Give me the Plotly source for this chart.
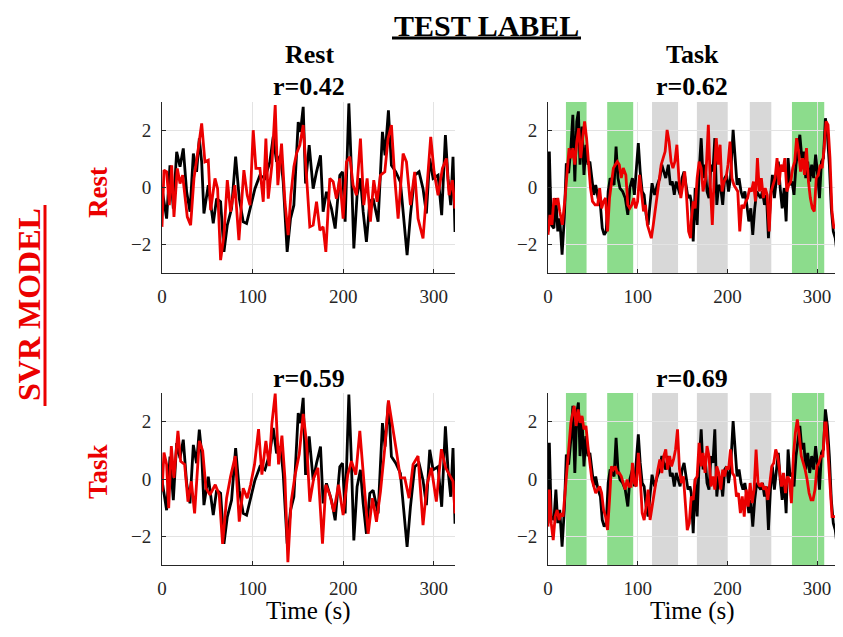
import plotly.graph_objects as go

# ---------------- data ----------------
# true (test label) time course, rest run
rest_true = [(0,-0.04),(5.1,-1.09),(8.8,0.78),(12.5,-0.74),(16.2,1.25),(19.9,0.73),(23.5,1.37),(27.2,-0.15),
 (30.9,-0.85),(34.6,1.19),(38.2,0.55),(41.2,1.72),(43.8,0.9),(46.3,-0.91),(51.1,0.08),(56.6,-1.26),(60.3,-0.39),
 (64.7,-0.5),(68.4,-2.26),(72.1,-1.32),(76.8,-0.74),(81.3,1.08),(85.3,-0.39),(89.7,-1.2),(93.4,-1.26),(97.8,-0.62),
 (102.6,-0.04),(108.1,0.43),(113.6,0.32),(119.1,0.9),(122.8,1.78),(126.5,0.9),(130.9,1.13),(133.8,0.2),(138.2,-2.26),
 (141.9,-1.09),(145.6,-0.62),(150.4,2.3),(152.9,1.95),(155.9,2.83),(158.5,0.14),(162.5,1.49),(166.9,-0.04),(170.6,0.55),
 (175,1.13),(177.9,-0.85),(181.6,-0.15),(187.1,-0.74),(191.2,-1.44),(196.3,0.43),(199.3,0.55),(202.2,-1.2),(206.3,2.95),
 (208.8,0.9),(211.8,-2.14),(215.4,-0.27),(219.1,0.32),(222.1,-0.85),(225.7,-1.91),(229.4,-0.5),(233.1,-0.39),(238.6,-1.2),
 (243.4,1.95),(246.3,1.13),(250,2.71),(253.3,0.78),(258.1,0.55),(263.2,0.2),(266.9,-1.15),(270.6,-2.37),(274.3,-0.97),
 (279,0.43),(283.8,0.55),(288.2,-0.04),(291.9,-0.91),(295.6,1.02),(299.3,0.32),(304.8,0.43),(308.8,-0.97),(312.9,1.84),
 (315.8,0.32),(318.8,-0.62),(321.3,1.08),(323.5,-1.56)]

# true (test label) time course, task run
task_true = [(0,-1.54),(1.5,1.26),(3.6,-1.31),(6.6,-1.43),(8.8,-0.37),(10.9,-1.54),(13.1,-1.08),(15.7,-2.36),(18.2,-1.08),
 (20.4,0.85),(23,0.5),(25.5,1.38),(27.7,2.55),(29.9,0.21),(32.1,2.32),(33.9,2.67),(35.7,0.8),(37.9,2.14),(40.1,0.44),
 (42.3,1.5),(44.5,0.8),(46.7,0.91),(48.9,0.33),(51.1,-0.26),(53.2,0.09),(55.8,-0.37),(58.4,-0.61),(60.5,-1.43),
 (62.7,-1.66),(64.9,-1.54),(67.1,-0.14),(69.3,0.33),(71.5,0.21),(73.7,0.09),(75.9,1.44),(78,0.33),(80.2,-0.02),
 (83.2,-0.14),(86.1,-0.37),(89,-0.96),(91.2,-0.02),(94.1,0.33),(96.3,-0.26),(98.5,0.8),(100.7,1.56),(102.8,0.56),
 (105,-0.14),(107.2,-0.26),(109.4,-0.96),(111.6,-1.31),(113.8,-0.61),(116,0.15),(118.9,-0.26),(121.8,0.09),
 (124.7,0.33),(126.9,0.8),(129.1,0.56),(131.3,0.33),(134.2,0.8),(136.4,0.09),(138.6,0.21),(140.8,-0.26),(143,0.21),
 (145.2,-0.02),(147.3,-0.26),(149.5,0.33),(151.7,0.56),(153.9,0.09),(156.1,-0.37),(158.3,-0.26),(159.7,-0.49),
 (161.9,-1.89),(164.1,-0.02),(166.3,-1.31),(168.5,0.56),(170.8,1.73),(172.9,0.33),(175.1,0.8),(177.3,-0.14),
 (179.5,-0.37),(181.7,0.8),(183.9,0.56),(186,1.73),(188.2,-0.61),(190.4,0.09),(192.6,-0.02),(194.8,-0.61),(197,0.33),
 (199.1,0.44),(201.3,-0.14),(203.5,0.33),(206.4,2.02),(208.6,1.03),(210.8,0.09),(213,0.33),(215.2,-0.14),(217.4,-0.37),
 (219.5,-0.14),(221.7,-0.61),(223.9,-1.19),(226.1,-0.73),(228.3,-1.66),(230.5,-0.73),(232.7,-0.14),(234.9,-0.26),
 (237.1,-0.37),(239.2,-0.14),(241.4,-0.61),(243.6,-0.26),(245.8,-1.78),(248,-0.37),(250.2,0.44),(252.4,-0.37),
 (254.6,0.21),(256.8,0.91),(258.9,-0.02),(261.1,-0.73),(263.3,-0.02),(265.5,-1.19),(267.7,1.03),(269.9,0.09),
 (272.1,0.21),(274.3,-0.26),(276.5,0.8),(278.6,1.26),(280.8,1.85),(283,1.03),(285.2,1.26),(287.4,0.33),(289.6,0.91),
 (291.8,0.21),(294,0.8),(296.2,0.33),(298.4,1.15),(300.6,0.44),(302.7,-0.37),(304.9,0.91),(307.1,1.03),(309.3,2.43),
 (311.5,1.85),(313.7,0.8),(315.9,-0.73),(318.1,-1.54),(320.3,-1.78),(322.5,-2.36)]

# SVR predictions: model trained on rest / task, tested on rest / task
pred_restmodel_rest = [(0,-1.38),(2.2,0.61),(5.1,0.55),(8.1,-0.62),(10.7,0.78),(13.2,-1.03),(16.9,0.67),(19.9,0.14),
 (22.8,0.43),(27.9,-1.03),(31.6,-1.32),(35.3,0.32),(40.1,1.37),(43.8,2.25),(47.4,0.9),(51.1,0.96),(53.7,-0.8),
 (58.5,0.32),(61.4,-0.04),(64.7,-2.55),(68.4,-1.67),(72.1,0.26),(75.7,-0.85),(80.5,0.08),(84.9,-1.85),(90.4,0.61),
 (94.1,-0.27),(97.1,-0.62),(100.7,2.01),(103.7,0.67),(108.1,0.67),(111.8,-0.5),(114.7,1.72),(117.3,-0.39),(121.3,0.78),
 (125,2.89),(127.9,0.08),(132,1.54),(135.7,-0.5),(139.3,-1.67),(142.3,-0.27),(145.6,0.73),(148.5,1.19),(152.2,1.49),
 (155.9,2.19),(159.6,0.55),(163.2,-1.38),(166.9,-1.32),(170.6,-0.5),(174.3,-1.5),(177.9,-1.38),(180.9,-2.26),
 (185.3,0.32),(189,0.2),(192.6,-0.39),(196.3,0.32),(200,-1.09),(203.7,0.9),(207.4,1.08),(211,0.08),(214.7,-0.27),
 (219.1,1.72),(222.8,-0.62),(226.5,0.32),(230.1,-1.2),(233.8,0.26),(237.5,-0.5),(241.2,0.43),(246,0.55),(249.6,1.72),
 (253.3,2.19),(257,0.32),(260.7,-1.09),(266.2,1.19),(269.9,0.9),(274.3,-0.62),(279,0.55),(282.7,-1.09),(288.2,-1.79),
 (291.9,-0.27),(296.7,1.78),(300.4,0.55),(304.8,-0.27),(309.6,0.67),(314,1.02),(317,-0.27),(320.6,0.26),(323.5,-0.74)]

pred_restmodel_task = [(0,-1.66),(2.2,-0.96),(4.4,-1.31),(6.6,-0.37),(8.8,-0.61),(10.9,-0.37),(13.1,-0.84),(16,-1.31),
 (19,-0.37),(21.2,0.56),(23.5,1.38),(25.5,1.03),(27.7,1.38),(29.9,0.8),(32.1,1.61),(34.3,2.08),(36.5,1.03),(38.7,1.73),
 (40.8,2.32),(43,1.73),(45.2,0.91),(47.4,-0.02),(49.6,-0.49),(52.5,-0.61),(55.4,-0.61),(57.6,-0.02),(59.8,-0.73),
 (62,-0.49),(64.2,-0.37),(66.4,-1.54),(68.6,-0.37),(70.7,0.21),(72.9,0.68),(75.1,0.8),(77.3,0.91),(79.5,0.8),
 (81.7,0.33),(83.9,0.68),(86.8,0.44),(89,-0.61),(91.2,-0.73),(93.4,-0.61),(95.6,-0.37),(97.7,-0.73),(99.9,-0.49),
 (102.1,0.44),(104.3,-0.26),(106.5,-0.84),(108.7,-0.61),(110.8,-1.31),(113,-1.54),(115.2,-1.78),(117.4,-1.31),
 (119.6,-0.73),(121.8,-0.14),(124,0.33),(126.2,0.8),(128.4,1.03),(130.6,1.26),(132.8,2.02),(135,1.61),(137.2,0.91),
 (139.3,0.68),(141.5,0.91),(143.7,1.5),(145.9,0.33),(148.1,-0.37),(150.3,0.09),(152.4,0.56),(154.6,-0.37),
 (156.8,-1.54),(159,-1.78),(159.7,-1.19),(161.9,-0.49),(164.1,-0.73),(166.3,0.33),(168.5,0.91),(170.8,0.68),
 (172.9,-0.14),(175.9,0.33),(178.8,2.2),(181,0.09),(183.2,-1.31),(185.4,0.44),(187.6,1.73),(189.8,0.8),(191.9,1.5),
 (194.1,-0.14),(196.3,0.21),(198.5,0.33),(200.7,0.8),(202.9,1.61),(205.1,0.33),(207.3,0.09),(209.4,-0.02),
 (211.6,-0.14),(213.8,-1.54),(216,-0.61),(218.2,-0.73),(220.4,-0.49),(222.6,-0.37),(224.8,-0.02),(226.9,-0.14),
 (229.1,0.21),(231.3,-0.49),(233.5,1.03),(235.7,-0.14),(237.9,0.33),(240.1,-0.37),(242.2,-0.02),(244.4,-0.26),
 (246.6,-1.54),(248.8,-0.14),(251,0.09),(253.2,0.33),(255.4,1.03),(257.6,0.09),(259.7,0.8),(261.9,0.56),(264.1,1.03),
 (266.3,-0.14),(268.5,0.09),(270.7,0.21),(272.9,0.68),(275.1,0.91),(277.2,1.73),(279.4,1.26),(281.6,0.56),
 (283.8,1.03),(286,0.44),(288.2,1.38),(290.4,0.21),(292.5,-0.37),(294.7,-0.73),(296.9,-0.84),(299.1,0.33),
 (301.3,0.44),(303.5,0.8),(305.7,0.68),(307.9,1.38),(310.1,2.32),(312.2,2.2),(314.4,1.03),(316.6,-0.84),
 (318.8,-1.43),(321.7,-1.31)]

pred_taskmodel_rest = [(0,-0.44),(2.2,0.92),(5.1,0.51),(7.4,-1.02),(10.3,1.15),(13.2,0.04),(17.6,1.68),(20.6,0.62),
 (25,0.51),(28.7,-0.79),(32.4,-0.08),(36,-1.2),(41.2,1.33),(44.9,0.98),(48.5,-0.32),(52.9,-0.55),(58.8,-0.2),
 (63.2,-0.55),(66.9,-2.26),(71.3,-0.67),(75.7,0.09),(80.9,0.8),(85.3,-1.49),(89.7,-0.32),(94.1,-0.67),(97.8,-0.2),
 (102.2,0.51),(106.6,1.74),(110.3,0.15),(114.7,1.33),(118.4,0.45),(121.3,1.92),(125,2.98),(128.7,0.51),(132.4,1.51),
 (135.7,0.04),(139,-2.9),(142.6,-0.79),(147,0.15),(151.5,0.86),(155.9,2.27),(159.6,1.27),(163.2,-0.79),(167.6,0.04),
 (172.1,0.39),(177.2,-2.26),(180.9,-0.2),(185.3,-0.55),(189.7,-1.14),(194.9,-0.2),(200,-1.26),(205.1,0.15),
 (209.2,0.62),(214,0.15),(218.4,1.68),(222.8,-0.2),(227.6,-1.91),(232.4,-0.67),(236.8,-1.49),(241.2,-0.44),
 (246,1.09),(250,2.74),(254.4,1.92),(258.8,0.98),(263.2,0.04),(268,0.04),(272.8,-0.67),(277.2,0.51),(282.7,0.8),
 (288.2,-1.61),(292.6,-0.2),(297.4,0.39),(302.9,-0.79),(308.5,1.04),(313.2,0.39),(317.6,0.15),(321.3,-0.08),
 (323.5,-1.2)]

pred_taskmodel_task = [(0,-1.66),(1.5,-0.37),(3.6,-1.54),(5.8,-2.13),(8,-1.31),(10.2,-1.08),(12.4,-1.43),(14.6,-1.19),
 (16.8,-1.31),(19,-0.49),(21.2,0.09),(23.3,1.03),(25.5,1.96),(27.7,2.32),(29.2,2.55),(31.4,1.85),(33.6,2.43),
 (35.7,1.96),(37.9,2.2),(40.1,1.73),(42.3,1.85),(44.5,1.15),(46.7,0.44),(48.9,-0.02),(51.1,-0.26),(53.2,-0.49),
 (55.4,-0.37),(57.6,-0.26),(59.8,-0.49),(62,-1.08),(64.2,-1.31),(66.4,-1.78),(68.6,-0.73),(70.7,0.44),(72.9,0.33),
 (75.1,0.44),(77.3,0.21),(79.5,0.21),(81.7,0.09),(83.9,-0.14),(86.1,-0.37),(88.2,-0.02),(90.4,-0.26),(92.6,-0.26),
 (94.1,0.56),(96.3,-0.14),(98.5,-0.26),(100.7,0.91),(102.8,0.09),(105,-1.19),(107.2,-1.43),(109.4,-0.96),
 (111.6,-0.37),(113.8,-1.43),(116,-0.96),(118.1,-0.61),(120.3,-0.02),(122.5,0.33),(124.7,0.68),(126.9,0.21),
 (129.1,0.8),(131.3,1.03),(133.4,0.33),(135.6,0.8),(137.8,0.44),(140,0.68),(142.2,1.03),(144.4,1.73),(146.6,0.33),
 (148.8,-0.14),(151,0.09),(153.1,-0.84),(155.3,-1.78),(157.5,-1.54),(159.7,-0.61),(161.9,-0.73),(164.1,-0.02),
 (166.3,0.09),(168.5,1.26),(170.8,0.44),(172.9,0.91),(175.1,0.21),(177.3,1.15),(179.5,0.8),(181.7,-0.26),
 (183.9,0.09),(186,-0.37),(188.2,0.44),(190.4,0.21),(192.6,-0.37),(194.8,0.33),(197,0.09),(199.1,0.44),(201.3,0.33),
 (203.5,1.03),(205.7,0.21),(207.9,0.09),(210.1,-0.61),(212.3,-0.49),(214.5,-1.19),(216.6,-0.61),(218.8,-1.31),
 (221,-0.37),(223.2,-0.96),(225.4,-0.14),(227.6,-0.84),(229.8,-0.37),(232,1.03),(234.2,-0.14),(236.3,-0.26),
 (238.5,-0.14),(240.7,-0.37),(242.9,-0.26),(245.1,-0.73),(247.3,-0.14),(249.5,0.44),(251.7,0.56),(253.9,1.03),
 (256.1,0.8),(258.2,0.33),(260.4,-0.26),(262.6,0.21),(264.8,-0.49),(267,0.09),(269.2,-0.02),(271.4,-0.84),
 (273.6,0.8),(275.8,1.61),(278,2.08),(280.2,1.5),(282.4,0.8),(284.6,0.56),(286.7,0.33),(288.9,-0.02),(291.1,-0.49),
 (293.3,-0.73),(295.5,-0.73),(297.7,-0.37),(299.9,0.44),(302.1,0.56),(304.3,0.8),(306.5,0.8),(308.7,1.96),
 (310.1,1.96),(312.3,0.8),(314.5,-0.37),(316.7,-1.31),(318.9,-1.31),(321.8,-1.31)]

# task blocks (seconds): start, end, condition
block_start = [20, 66, 116, 166, 225, 272]
block_end = [43, 95, 145, 200, 249, 308]
block_kind = ["A", "A", "B", "B", "B", "A"]

panel_r = {(1, 1): "r=0.42", (1, 2): "r=0.62", (2, 1): "r=0.59", (2, 2): "r=0.69"}
x_ticks = [0, 100, 200, 300]
y_ticks = [-2, 0, 2]

# ---------------- figure ----------------
WIN_W, WIN_H = 843, 637
OFF = 8                      # default page margin around the plot div
W, H = WIN_W - 2 * OFF, WIN_H - 2 * OFF
FONT = "Times New Roman, Liberation Serif, serif"
BLACK = "#000000"
RED = "rgb(235,0,0)"
GREEN = "rgb(140,220,140)"
GRAY = "rgb(216,216,216)"

def px(x):
    return (x - OFF) / W

def py(y):
    return 1 - (y - OFF) / H

fig = go.Figure()

doms = {
    1: dict(x=(px(162), px(455)), y=(py(273), py(102)), rng=323.5),
    2: dict(x=(px(548), 1.0), y=(py(273), py(102)), rng=320.0),
    3: dict(x=(px(162), px(455)), y=(py(565), py(393)), rng=323.5),
    4: dict(x=(px(548), 1.0), y=(py(565), py(393)), rng=320.0),
}
panels = [
    (1, rest_true, pred_restmodel_rest, False),
    (2, task_true, pred_restmodel_task, True),
    (3, rest_true, pred_taskmodel_rest, False),
    (4, task_true, pred_taskmodel_task, True),
]

layout = dict(
    width=W, height=H, margin=dict(l=0, r=0, t=0, b=0),
    paper_bgcolor="white", plot_bgcolor="rgba(0,0,0,0)",
    showlegend=False, font=dict(family=FONT, color="#262626"),
)
shapes = []
for idx, truth, pred, blocks in panels:
    d = doms[idx]
    xa = "x" if idx == 1 else f"x{idx}"
    ya = "y" if idx == 1 else f"y{idx}"
    tt, tv = zip(*truth)
    pt, pv = zip(*pred)
    fig.add_trace(go.Scatter(x=tt, y=tv, mode="lines", line=dict(color=BLACK, width=2.8),
                             xaxis=xa, yaxis=ya, hoverinfo="skip"))
    fig.add_trace(go.Scatter(x=pt, y=pv, mode="lines", line=dict(color=RED, width=2.8),
                             xaxis=xa, yaxis=ya, hoverinfo="skip"))
    axkey = "" if idx == 1 else str(idx)
    common = dict(
        showline=True, linecolor="#262626", linewidth=1, mirror=False,
        ticks="inside", ticklen=4, tickcolor="#262626",
        showgrid=True, gridcolor="#e3e3e3", gridwidth=1, zeroline=False,
        tickfont=dict(family=FONT, size=19, color="#262626"), ticklabelstandoff=6,
        automargin=False,
    )
    layout["xaxis" + axkey] = dict(domain=list(d["x"]), anchor=ya, range=[0, d["rng"]],
                                   tickvals=x_ticks, ticklabeloverflow="allow", **common)
    layout["yaxis" + axkey] = dict(domain=list(d["y"]), anchor=xa, range=[-3, 3],
                                   tickvals=y_ticks, **common)
    if blocks:
        for s, e, k in zip(block_start, block_end, block_kind):
            shapes.append(dict(type="rect", xref=xa, yref=f"{ya} domain", x0=s, x1=e, y0=0, y1=1,
                               fillcolor=GREEN if k == "A" else GRAY, line=dict(width=0), layer="below"))

annotations = []

def ann(text, x, y, size, color="#000000", angle=0):
    annotations.append(dict(text=text, x=px(x), y=py(y), xref="paper", yref="paper",
                            showarrow=False, xanchor="center", yanchor="middle", textangle=angle,
                            font=dict(family=FONT, size=size, color=color)))

ann("<b>TEST LABEL</b>", 486, 25, 30)
shapes.append(dict(type="line", xref="paper", yref="paper", x0=px(392), x1=px(581), y0=py(38), y1=py(38),
                   line=dict(color="#000000", width=3)))
ann("<b>Rest</b>", 309, 54, 26)
ann("<b>Task</b>", 692, 54, 26)
ann("<b>" + panel_r[(1, 1)] + "</b>", 309, 86, 26)
ann("<b>" + panel_r[(1, 2)] + "</b>", 692, 86, 26)
ann("<b>" + panel_r[(2, 1)] + "</b>", 309, 378, 26)
ann("<b>" + panel_r[(2, 2)] + "</b>", 692, 378, 26)
ann("Time (s)", 308, 611, 25)
ann("Time (s)", 692, 611, 25)
ann("<b>Rest</b>", 98, 193, 27, RED, -90)
ann("<b>Task</b>", 98, 472, 27, RED, -90)
ann("<b>SVR MODEL</b>", 29, 305, 32, RED, -90)
shapes.append(dict(type="line", xref="paper", yref="paper", x0=px(45), x1=px(45), y0=py(205), y1=py(406),
                   line=dict(color=RED, width=3)))

layout["shapes"] = shapes
layout["annotations"] = annotations
fig.update_layout(**layout)
fig.write_html("out.html")
